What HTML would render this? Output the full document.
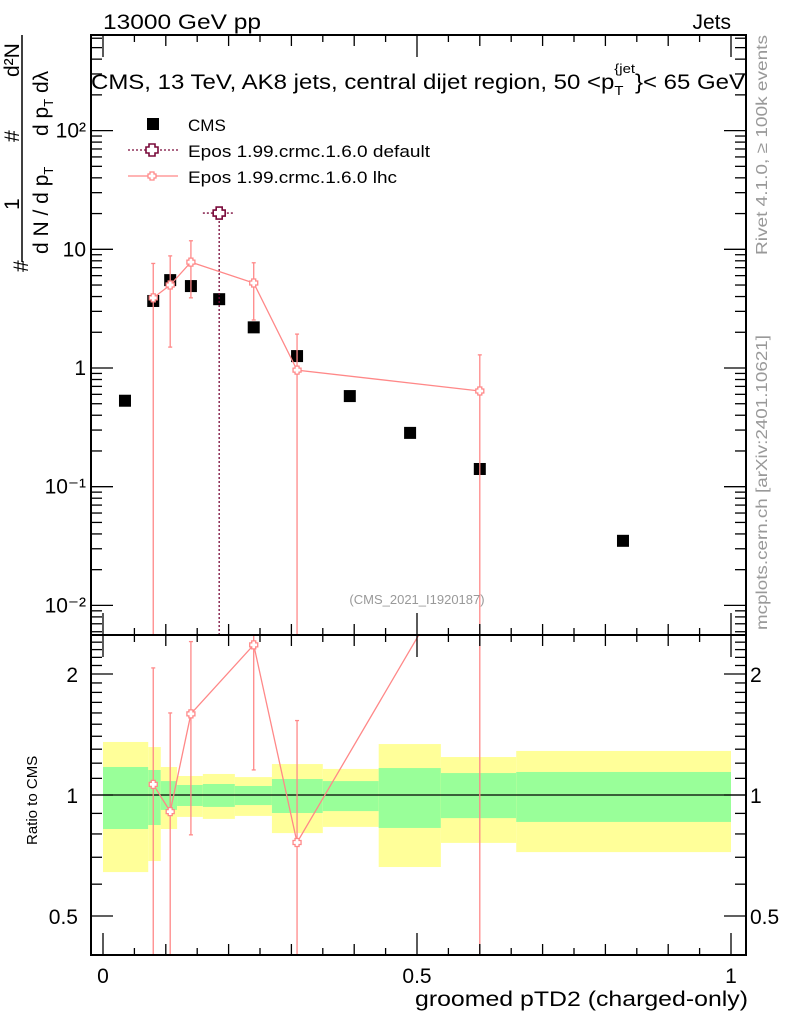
<!DOCTYPE html>
<html><head><meta charset="utf-8"><style>
html,body{margin:0;background:#fff;width:786px;height:1024px;overflow:hidden;}
svg{display:block;font-family:"Liberation Sans",sans-serif;}
</style></head><body>
<svg id="c" width="786" height="1024" xmlns="http://www.w3.org/2000/svg">
<defs>
<clipPath id="cm"><rect x="91" y="35" width="655" height="600"/></clipPath>
<clipPath id="cr"><rect x="91" y="635" width="655" height="320"/></clipPath>
</defs>
<g id="bands" clip-path="url(#cr)"></g>
<g id="mainplot" clip-path="url(#cm)"></g>
<g id="ratioplot" clip-path="url(#cr)"></g>
<g id="axes"></g>
<text x="103" y="29" font-size="21" textLength="158" lengthAdjust="spacingAndGlyphs">13000 GeV pp</text>
<text x="731" y="29" font-size="21" text-anchor="end">Jets</text>
<text x="91" y="89" font-size="21" textLength="654" lengthAdjust="spacingAndGlyphs">CMS, 13 TeV, AK8 jets, central dijet region, 50 &lt;p<tspan font-size="13" dy="6">T</tspan><tspan font-size="13" dx="-8" dy="-22">{jet</tspan><tspan dy="16">}&lt; 65 GeV</tspan></text>
<g>
<rect x="147" y="118" width="12" height="12" fill="#000"/>
<text x="188" y="131" font-size="17">CMS</text>
<line x1="128" y1="150" x2="178" y2="150" stroke="#7a0a3a" stroke-dasharray="2,2" stroke-width="1.3"/>
<path d="M149,144h6v3h3v6h-3v3h-6v-3h-3v-6h3z" fill="#fff" stroke="#7a0a3a" stroke-width="1.6"/>
<text x="188" y="157" font-size="17" textLength="242" lengthAdjust="spacingAndGlyphs">Epos 1.99.crmc.1.6.0 default</text>
<line x1="128" y1="176" x2="178" y2="176" stroke="#f88" stroke-width="1.3"/>
<path d="M150,172h4v2h2v4h-2v2h-4v-2h-2v-4h2z" fill="#fff" stroke="#f88" stroke-width="1.3"/>
<text x="188" y="183" font-size="17" textLength="209" lengthAdjust="spacingAndGlyphs">Epos 1.99.crmc.1.6.0 lhc</text>
</g>
<text x="417" y="604" font-size="13" fill="#999" text-anchor="middle">(CMS_2021_I1920187)</text>
<text transform="translate(767,255) rotate(-90)" font-size="16" fill="#999" textLength="220" lengthAdjust="spacingAndGlyphs">Rivet 4.1.0, ≥ 100k events</text>
<text transform="translate(767,630) rotate(-90)" font-size="16" fill="#999" textLength="295" lengthAdjust="spacingAndGlyphs">mcplots.cern.ch [arXiv:2401.10621]</text>
<g font-size="21">
<line x1="22" y1="35" x2="22" y2="262" stroke="#000" stroke-width="1.5"/>
<text transform="translate(28,272) rotate(-90)">#</text>
<text transform="translate(19,210) rotate(-90)">1</text>
<text transform="translate(48,254) rotate(-90)">d N / d p<tspan font-size="13" dy="5">T</tspan></text>
<text transform="translate(19,142) rotate(-90)">#</text>
<text transform="translate(48,136) rotate(-90)">d p<tspan font-size="13" dy="5">T</tspan><tspan dy="-5"> dλ</tspan></text>
<text transform="translate(19,77) rotate(-90)">d²N</text>
</g>
<text transform="translate(37,845) rotate(-90)" font-size="15">Ratio to CMS</text>
<text x="415" y="1006" font-size="21" textLength="333" lengthAdjust="spacingAndGlyphs">groomed pTD2 (charged-only)</text>
</svg>
<script>
const xVals=[0.035,0.08,0.107,0.14,0.185,0.24,0.309,0.393,0.489,0.6,0.828];
const cmsVals=[0.53,3.67,5.5,4.9,3.8,2.2,1.26,0.58,0.284,0.141,0.035];
const lhcX=[0.08,0.107,0.14,0.24,0.309,0.6];
const lhcVals=[3.9,5.0,7.8,5.2,0.96,0.64];
const lhcUp=[7.6,8.8,11.8,7.7,1.93,1.29];
const lhcDn=[0.001,1.5,3.9,2.54,0.001,0.001];
const defX=[0.185];const defVals=[20.2];const defXlo=[0.159];const defXhi=[0.21];
const binEdges=[0,0.072,0.092,0.118,0.159,0.21,0.269,0.350,0.439,0.538,0.658,1.0];
const yellowHi=[1.355,1.316,1.174,1.115,1.128,1.108,1.194,1.161,1.339,1.243,1.287];
const yellowLo=[0.643,0.685,0.823,0.882,0.872,0.887,0.804,0.833,0.662,0.760,0.721];
const greenHi=[1.174,1.154,1.083,1.059,1.065,1.053,1.096,1.083,1.167,1.134,1.141];
const greenLo=[0.823,0.842,0.918,0.939,0.934,0.944,0.902,0.912,0.828,0.876,0.857];
const mainTicks=[100,10,1,0.1,0.01];
const mainTickLabels=["10²","10","1","10⁻¹","10⁻²"];
const ratioTicks=[2,1,0.5];const ratioTickLabels=["2","1","0.5"];
const xTicks=[0,0.5,1];const xTickLabels=["0","0.5","1"];

const NS="http://www.w3.org/2000/svg";
const X=v=>103+628*v;
const Y=v=>Math.max(30,Math.min(640,368-118.7*Math.log10(v)));
const R=v=>Math.max(500,Math.min(960,795-121*Math.log2(v)));
function mk(p,t,a){const e=document.createElementNS(NS,t);for(const k in a)e.setAttribute(k,a[k]);p.appendChild(e);return e;}
const bands=document.getElementById('bands'),mp=document.getElementById('mainplot'),rp=document.getElementById('ratioplot'),ax=document.getElementById('axes');
for(let i=0;i<binEdges.length-1;i++){
 let r=mk(bands,'rect',{x:X(binEdges[i]),y:R(yellowHi[i]),width:X(binEdges[i+1])-X(binEdges[i]),height:R(yellowLo[i])-R(yellowHi[i]),fill:'#ffff99'});
 
 
 let g=mk(bands,'rect',{x:X(binEdges[i]),y:R(greenHi[i]),width:X(binEdges[i+1])-X(binEdges[i]),height:R(greenLo[i])-R(greenHi[i]),fill:'#99ff99'});
 
 
}
mk(rp,'line',{x1:91,x2:746,y1:R(1),y2:R(1),stroke:'#000','stroke-width':1.3});
function cross(p,x,y,s,col,w){return mk(p,'path',{d:`M${x-s/2},${y-s}h${s}v${s/2}h${s/2}v${s}h${-s/2}v${s/2}h${-s}v${-s/2}h${-s/2}v${-s}h${s/2}z`,fill:'#fff',stroke:col,'stroke-width':w});}
xVals.forEach((x,i)=>{const r=mk(mp,'rect',{x:X(x)-6,y:Y(cmsVals[i])-6,width:12,height:12,fill:'#000'});
 
 });
defX.forEach((x,i)=>{
 mk(mp,'line',{x1:X(defXlo[i]),x2:X(defXhi[i]),y1:Y(defVals[i]),y2:Y(defVals[i]),stroke:'#7a0a3a','stroke-dasharray':'2,2','stroke-width':1.3});
 mk(mp,'line',{x1:X(x),x2:X(x),y1:Y(defVals[i]),y2:640,stroke:'#7a0a3a','stroke-dasharray':'2,2','stroke-width':1.3});
 const c=cross(mp,X(x),Y(defVals[i]),6,'#7a0a3a',1.6);
 
 
});
const pl=mk(mp,'polyline',{points:lhcX.map((x,i)=>X(x)+','+Y(lhcVals[i])).join(' '),fill:'none',stroke:'#f88','stroke-width':1.3});


lhcX.forEach((x,i)=>{
 mk(mp,'line',{x1:X(x),x2:X(x),y1:Y(lhcUp[i]),y2:Y(lhcDn[i]),stroke:'#f88','stroke-width':1.3});
 mk(mp,'line',{x1:X(x)-2,x2:X(x)+2,y1:Y(lhcUp[i]),y2:Y(lhcUp[i]),stroke:'#f88','stroke-width':1.3});
 mk(mp,'line',{x1:X(x)-2,x2:X(x)+2,y1:Y(lhcDn[i]),y2:Y(lhcDn[i]),stroke:'#f88','stroke-width':1.3});
 const c=cross(mp,X(x),Y(lhcVals[i]),4,'#f88',1.3);
 
 
});
const cmsAt=x=>cmsVals[xVals.indexOf(x)];
const rl=mk(rp,'polyline',{points:lhcX.map((x,i)=>X(x)+','+(795-121*Math.log2(lhcVals[i]/cmsAt(x)))).join(' '),fill:'none',stroke:'#f88','stroke-width':1.3});


lhcX.forEach((x,i)=>{const c0=cmsAt(x);
 mk(rp,'line',{x1:X(x),x2:X(x),y1:R(lhcUp[i]/c0),y2:R(lhcDn[i]/c0),stroke:'#f88','stroke-width':1.3});
 mk(rp,'line',{x1:X(x)-2,x2:X(x)+2,y1:R(lhcUp[i]/c0),y2:R(lhcUp[i]/c0),stroke:'#f88','stroke-width':1.3});
 mk(rp,'line',{x1:X(x)-2,x2:X(x)+2,y1:R(lhcDn[i]/c0),y2:R(lhcDn[i]/c0),stroke:'#f88','stroke-width':1.3});
 const c=cross(rp,X(x),R(lhcVals[i]/c0),4,'#f88',1.3);
 
 
});
mk(ax,'rect',{x:91,y:35,width:655,height:600,fill:'none',stroke:'#000','stroke-width':2});
mk(ax,'rect',{x:91,y:635,width:655,height:320,fill:'none',stroke:'#000','stroke-width':2});
const tk=(x1,y1,x2,y2)=>mk(ax,'line',{x1:x1,y1:y1,x2:x2,y2:y2,stroke:'#000','stroke-width':1.3});
for(let d=-3;d<=3;d++)for(let m=1;m<10;m++){const v=m*Math.pow(10,d),y=368-118.7*Math.log10(v);if(y<36||y>634)continue;const L=m==1?22:11;tk(91,y,91+L,y);tk(746,y,746-L,y);}
mainTicks.forEach((v,i)=>{const t=mk(ax,'text',{x:86,y:Y(v)+7,'font-size':21,'text-anchor':'end'});t.textContent=mainTickLabels[i];
 
 });
for(let v=0.4;v<=2.6;v+=0.1){const y=795-121*Math.log2(v);if(y<636||y>954)continue;const maj=ratioTicks.some(t=>Math.abs(t-v)<1e-6);const L=maj?22:11;tk(91,y,91+L,y);tk(746,y,746-L,y);}
ratioTicks.forEach((v,i)=>{let t=mk(ax,'text',{x:78,y:R(v)+8,'font-size':21,'text-anchor':'end'});t.textContent=ratioTickLabels[i];
 
 
 t=mk(ax,'text',{x:750,y:R(v)+8,'font-size':21});t.textContent=ratioTickLabels[i];
 
 });
for(let k=0;k<=20;k++){const v=k*0.05,x=X(v);const L=k%10==0?22:(k%2==0?11:7);
 tk(x,35,x,35+L);tk(x,635,x,635-L);tk(x,635,x,635+L);tk(x,955,x,955-L);}
xTicks.forEach((v,i)=>{const t=mk(ax,'text',{x:X(v),y:983,'font-size':21,'text-anchor':'middle'});t.textContent=xTickLabels[i];
 
 });
</script>
</body></html>
